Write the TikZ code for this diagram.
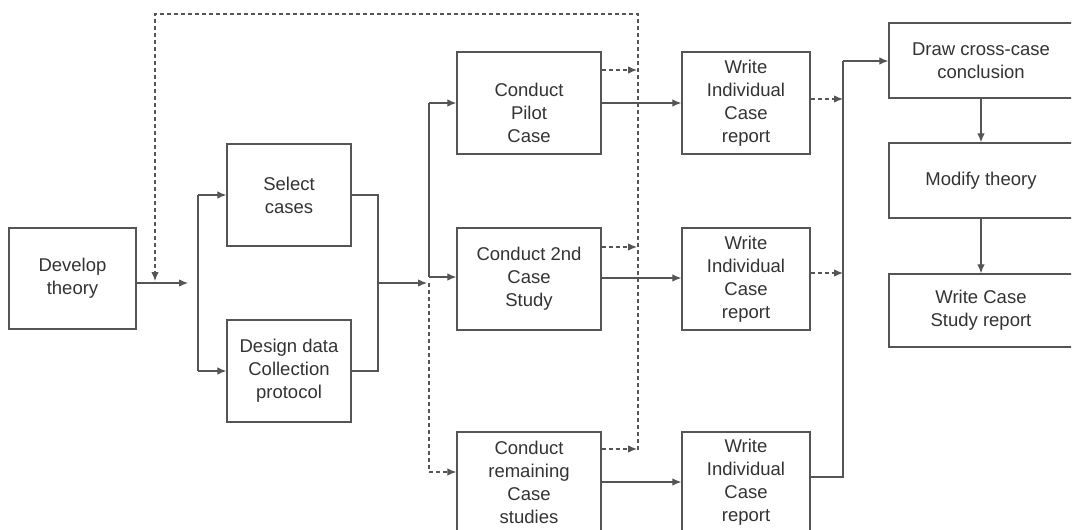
\documentclass[tikz,border=0pt]{standalone}
\usepackage{fontspec}
\setmainfont{Liberation Sans}
\usetikzlibrary{arrows.meta}
\definecolor{ln}{HTML}{555555}
\definecolor{tx}{HTML}{333333}
\begin{document}
\begin{tikzpicture}[x=1pt,y=-1pt,
  box/.style={draw=ln,line width=1.3pt,rectangle,inner sep=0pt,align=center,text=tx,
    font=\fontsize{18.5}{23}\selectfont},
  txt/.style={inner sep=0pt,align=center,text=tx,font=\fontsize{18.5}{23}\selectfont},
  arr/.style={draw=ln,line width=1.2pt,-{Latex[length=9pt,width=7.5pt]}},
  ln/.style={draw=ln,line width=1.2pt},
  dsh/.style={dash pattern=on 4pt off 3pt}]
\useasboundingbox (0,0) rectangle (1074,530);
\clip (0,0) rectangle (1071,530);
% boxes
\node[box,minimum width=127,minimum height=101] (dev) at (72.5,278.5) {Develop\\theory};
\node[box,minimum width=124,minimum height=102] (sel) at (289,195) {Select\\cases};
\node[box,minimum width=124,minimum height=102] (des) at (289,371) {Design data\\Collection\\protocol};
\node[box,minimum width=144,minimum height=102] (pil) at (529,103) {};
\node[txt] (piltxt) at (529,113) {Conduct\\Pilot\\Case};
\node[box,minimum width=144,minimum height=102] (snd) at (529,279) {Conduct 2nd\\Case\\Study};
\node[box,minimum width=144,minimum height=101] (rem) at (529,482.5) {Conduct\\remaining\\Case\\studies};
\node[box,minimum width=128,minimum height=102] (w1) at (746,103) {Write\\Individual\\Case\\report};
\node[box,minimum width=128,minimum height=102] (w2) at (746,279) {Write\\Individual\\Case\\report};
\node[box,minimum width=128,minimum height=101] (w3) at (746,482.5) {Write\\Individual\\Case\\report};
\node[box,minimum width=184,minimum height=75] (dcc) at (981,60.5) {Draw cross-case\\conclusion};
\node[box,minimum width=184,minimum height=75] (mod) at (981,180.5) {Modify theory};
\node[box,minimum width=184,minimum height=73] (wcs) at (981,310.5) {Write Case\\Study report};
% coordinates
\coordinate (a1) at (188,283);
\coordinate (f1) at (198,195);
\coordinate (f2) at (198,371);
\coordinate (j1) at (378,195);
\coordinate (j2) at (378,371);
\coordinate (jm) at (378,283);
\coordinate (a2) at (427,283);
\coordinate (s1) at (429,103);
\coordinate (s2) at (429,277);
\coordinate (s3) at (429,283);
\coordinate (s4) at (429,472);
\coordinate (fbb) at (638,450);
\coordinate (fbt) at (638,14);
\coordinate (fbl) at (155,14);
\coordinate (fbe) at (155,281);
\coordinate (c1) at (637,70);
\coordinate (c2) at (637,247);
\coordinate (c3) at (637,449);
\coordinate (r1) at (843,99);
\coordinate (r2) at (843,273);
\coordinate (r3) at (843,477);
\coordinate (rt) at (843,61);
% connectors
\draw[arr] (dev.east |- a1) -- (a1);
\draw[ln] (f1) -- (f2);
\draw[arr] (f1) -- (sel.west);
\draw[arr] (f2) -- (des.west);
\draw[ln] (sel.east) -- (j1) -- (j2) -- (des.east);
\draw[arr] (jm) -- (a2);
\draw[ln] (s1) -- (s2);
\draw[arr] (s1) -- (pil.west |- s1);
\draw[arr] (s2) -- (snd.west |- s2);
\draw[ln,dsh] (s3) -- (s4);
\draw[arr,dsh] (s4) -- (rem.west |- s4);
\draw[arr,dsh] (fbb) -- (fbt) -- (fbl) -- (fbe);
\draw[arr,dsh] (pil.east |- c1) -- (c1);
\draw[arr,dsh] (snd.east |- c2) -- (c2);
\draw[arr,dsh] (rem.east |- c3) -- (c3);
\draw[arr] (pil.east |- s1) -- (w1.west |- s1);
\draw[arr] (snd.east |- 0,278) -- (w2.west |- 0,278);
\draw[arr] (rem.east |- 0,482) -- (w3.west |- 0,482);
\draw[arr,dsh] (w1.east |- r1) -- (r1);
\draw[arr,dsh] (w2.east |- r2) -- (r2);
\draw[ln] (w3.east |- r3) -- (r3) -- (rt);
\draw[arr] (rt) -- (dcc.west |- rt);
\draw[arr] (dcc.south) -- (mod.north);
\draw[arr] (mod.south) -- (wcs.north);
\end{tikzpicture}
\end{document}
